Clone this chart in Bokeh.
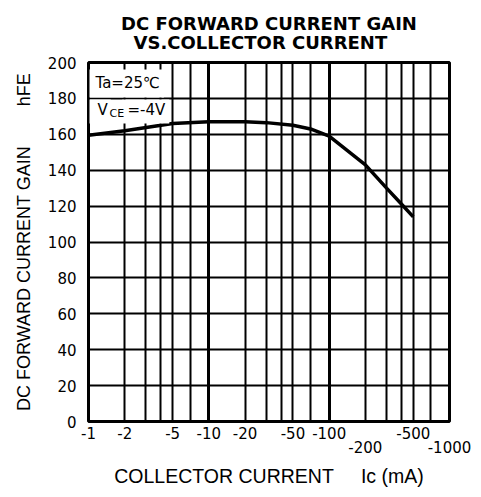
from bokeh.plotting import figure
from bokeh.models import (FixedTicker, Grid, Label, Range1d, LogAxis)
from bokeh.embed import file_html
from bokeh.resources import INLINE

# ---- data ----
ic_ma = [1, 2, 5, 10, 20, 30, 50, 70, 100, 200, 300, 400, 500]
hfe = [159.5, 162, 166, 167, 167, 166.5, 165, 163, 159, 143, 130, 121, 114]

title_lines = ["DC FORWARD CURRENT GAIN", "VS.COLLECTOR CURRENT"]
x_ticks = [1, 2, 5, 10, 20, 50, 100, 500]
x_tick_labels = ["-1", "-2", "-5", "-10", "-20", "-50", "-100", "-500"]
x_low_ticks = [200, 1000]
x_low_labels = ["-200", "-1000"]
x_decade_grid = [10, 100]
x_minor_grid = [2, 3, 4, 5, 7, 20, 30, 40, 50, 70, 200, 300, 400, 500, 700]
y_ticks = [0, 20, 40, 60, 80, 100, 120, 140, 160, 180, 200]

FONT = "DejaVu Sans"
LFONT = "Liberation Sans"
NB = "\u00a0"

p = figure(width=481, height=497, x_axis_type="log",
           x_range=Range1d(1, 1000), y_range=Range1d(0, 200),
           output_backend="svg", toolbar_location=None,
           min_border_left=88, min_border_right=32,
           min_border_top=62, min_border_bottom=76)

# two-line title (second line indented so both lines look centred)
p.title.text = title_lines[0] + "\n" + NB * 2 + title_lines[1]
p.title.align = "center"
p.title.text_font = FONT
p.title.text_font_size = "18px"
p.title.text_font_style = "bold"
p.title.text_color = "black"
p.title.text_line_height = 0.9
p.title.standoff = 19

p.outline_line_color = "black"
p.outline_line_width = 3
p.background_fill_color = "white"
p.border_fill_color = "white"

# x axis (first row of labels)
xa = p.xaxis[0]
xa.ticker = FixedTicker(ticks=x_ticks)
xa.major_label_overrides = {t: s for t, s in zip(x_ticks, x_tick_labels)}
xa.axis_line_color = None
xa.major_tick_line_color = None
xa.minor_tick_line_color = None
xa.major_label_standoff = -1
xa.major_label_text_font = FONT
xa.major_label_text_font_size = "15px"
xa.major_label_text_color = "black"

# second row of x labels (staggered) + axis title
xa2 = LogAxis(ticker=FixedTicker(ticks=x_low_ticks),
              major_label_overrides={t: s for t, s in zip(x_low_ticks, x_low_labels)},
              axis_line_color=None, major_tick_line_color=None,
              minor_tick_line_color=None, major_label_standoff=-7,
              major_label_text_font=FONT, major_label_text_font_size="15px",
              major_label_text_color="black",
              axis_label="COLLECTOR CURRENT" + NB * 5 + "Ic (mA)",
              axis_label_text_font=LFONT, axis_label_text_font_size="19.5px",
              axis_label_text_font_style="normal", axis_label_text_color="black",
              axis_label_standoff=9)
p.add_layout(xa2, "below")

# y axis
ya = p.yaxis[0]
ya.ticker = FixedTicker(ticks=y_ticks)
ya.axis_line_color = None
ya.major_tick_line_color = None
ya.minor_tick_line_color = None
ya.major_label_standoff = 6
ya.major_label_text_font = FONT
ya.major_label_text_font_size = "15px"
ya.major_label_text_color = "black"
ya.axis_label = "DC FORWARD CURRENT GAIN" + NB * 8 + "hFE"
ya.axis_label_text_font = LFONT
ya.axis_label_text_font_size = "18px"
ya.axis_label_text_font_style = "normal"
ya.axis_label_text_color = "black"
ya.axis_label_standoff = 11

# grids
p.xgrid.ticker = FixedTicker(ticks=x_decade_grid)
p.xgrid.grid_line_color = "black"
p.xgrid.grid_line_width = 3
p.xgrid.grid_line_alpha = 1
p.add_layout(Grid(dimension=0, ticker=FixedTicker(ticks=x_minor_grid),
                  grid_line_color="black", grid_line_width=2))
p.ygrid.ticker = FixedTicker(ticks=y_ticks)
p.ygrid.grid_line_color = "black"
p.ygrid.grid_line_width = 2
p.ygrid.grid_line_alpha = 1

# curve
p.line(ic_ma, hfe, line_color="black", line_width=3.5)

# conditions box (white backgrounds hide the grid behind the text)
p.add_layout(Label(x=1, y=338, x_units="screen", y_units="screen",
                   text="Ta=25\u2103", text_font=FONT, text_font_size="15px",
                   text_color="black", text_baseline="middle", text_align="left",
                   background_fill_color="white",
                   padding=dict(left=6, right=4, top=4, bottom=6)))
p.add_layout(Label(x=1, y=310, x_units="screen", y_units="screen",
                   text="V", text_font=FONT, text_font_size="15px",
                   text_color="black", text_baseline="middle", text_align="left",
                   background_fill_color="white",
                   padding=dict(left=8, right=3, top=1, bottom=5)))
p.add_layout(Label(x=34, y=310, x_units="screen", y_units="screen",
                   text="=-4V", text_font=FONT, text_font_size="15px",
                   text_color="black", text_baseline="middle", text_align="left",
                   background_fill_color="white",
                   padding=dict(left=5, right=4, top=1, bottom=5)))
p.add_layout(Label(x=21, y=308, x_units="screen", y_units="screen",
                   text="CE", text_font=FONT, text_font_size="11px",
                   text_color="black", text_baseline="middle", text_align="left"))

open("out.html", "w").write(file_html(p, INLINE))
